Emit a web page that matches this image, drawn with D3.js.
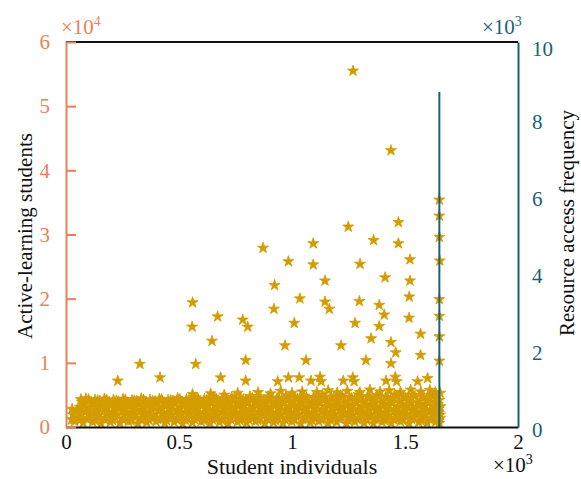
<!DOCTYPE html>
<html>
<head>
<meta charset="utf-8">
<script src="https://cdn.jsdelivr.net/npm/d3@7"></script>
<style>
  body { margin: 0; background: #fff; }
  svg text { font-family: "Liberation Serif", "Times New Roman", "DejaVu Serif", serif !important; }
</style>
</head>
<body>
<script>
/* CONSTANTS AND GLOBALS */
const width = 581,
  height = 479,
  margin = { top: 42, right: 63, bottom: 52, left: 66 };

const orange = "#e9825b",
  teal = "#1b6270",
  gold = "#d39c00";

/* DATA */
// ticks
const xTicks = [0, 500, 1000, 1500, 2000];
const leftTicks = [0, 10000, 20000, 30000, 40000, 50000, 60000];
const rightTicks = [0, 2000, 4000, 6000, 8000, 10000];

// dense band of students near the bottom [x, y]
const bandPoints = [
  [38,900],[76,650],[118,820],[155,560],[196,760],[238,620],[276,880],[318,540],[357,720],[399,860],
  [437,600],[478,780],[516,520],[559,700],[598,880],[637,610],[679,760],[717,540],[758,820],[799,650],
  [838,900],[879,580],[918,740],[960,620],[999,860],[1039,540],[1080,700],[1118,880],[1159,600],[1198,760],
  [1240,520],[1278,840],[1319,660],[1360,560],[1398,800],[1439,620],[1479,880],[1518,560],[1560,740],[1598,620],[1636,820],
  [25,1150],[60,1050],[92,1250],[130,1000],[170,1180],[205,1080],[250,1220],[288,1000],[330,1150],[368,1060],
  [405,1240],[445,1020],[490,1160],[528,1080],[568,1230],[610,1010],[648,1170],[690,1060],[728,1250],[770,1030],
  [808,1160],[848,1070],[890,1240],[928,1000],[970,1180],[1010,1090],[1048,1230],[1090,1020],[1128,1150],[1170,1070],
  [1210,1250],[1250,1000],[1290,1180],[1330,1080],[1368,1230],[1410,1020],[1450,1160],[1490,1060],[1528,1240],[1570,1010],
  [1610,1170],[1648,1050],
  [55,1500],[97,1350],[136,1650],[177,1420],[216,1580],[258,1300],[297,1700],[338,1450],[378,1560],[418,1330],
  [458,1680],[497,1480],[538,1380],[578,1620],[618,1420],[658,1560],[698,1330],[738,1700],[778,1460],[818,1580],
  [858,1350],[898,1640],[938,1480],[978,1380],[1018,1660],[1058,1420],[1098,1560],[1138,1320],[1178,1700],[1218,1480],
  [1258,1600],[1298,1380],[1338,1660],[1378,1440],[1418,1560],[1458,1340],[1498,1680],[1538,1450],[1578,1580],[1618,1360],[1645,1700],
  [30,1950],[68,1850],[108,2050],[146,1880],[186,1990],[228,1820],[268,2060],[308,1900],[348,1980],[388,1840],
  [428,2040],[468,1920],[508,1860],[548,2070],[588,1900],[628,2000],[670,1830],[710,2060],[750,1910],[790,1990],
  [830,1840],[870,2050],[910,1930],[950,1870],[990,2080],[1030,1900],[1070,2010],[1110,1840],[1150,2060],[1190,1920],
  [1230,1990],[1270,1850],[1310,2070],[1350,1910],[1390,2000],[1430,1840],[1470,2060],[1510,1930],[1550,1990],[1590,1860],
  [1630,2040],[1655,1900],
  [45,2300],[84,2450],[124,2150],[165,2380],[205,2250],[246,2520],[286,2200],[327,2420],[366,2300],[407,2550],
  [447,2180],[488,2400],[527,2270],[567,2500],[608,2200],[648,2440],[689,2320],[728,2560],[769,2200],[808,2400],
  [849,2300],[888,2520],[929,2180],[969,2450],[1009,2280],[1049,2560],[1089,2220],[1129,2420],[1169,2300],[1209,2540],
  [1249,2200],[1289,2440],[1329,2320],[1369,2560],[1409,2200],[1449,2420],[1489,2300],[1529,2520],[1569,2250],[1609,2440],[1642,2300],
  [50,2700],[92,2820],[132,2650],[175,2760],[214,2880],[256,2680],[296,2790],[336,2640],[376,2860],[416,2720],
  [456,2800],[496,2660],[536,2890],[577,2740],[617,2820],[657,2650],[697,2870],[738,2730],[778,2800],[818,2680],
  [858,2900],[898,2750],[938,2830],[978,2660],[1018,2880],[1058,2740],[1098,2810],[1138,2680],[1178,2900],[1218,2760],
  [1258,2840],[1298,2660],[1338,2890],[1378,2750],[1418,2820],[1458,2680],[1498,2900],[1538,2740],[1578,2830],[1618,2670],[1650,2850],
  [62,3100],[104,2950],[143,3250],[184,3050],[224,3200],[266,2980],[305,3300],[346,3100],[386,3220],[426,2960],
  [466,3300],[506,3080],[547,3180],[586,2980],[627,3320],[667,3100],[707,3240],[748,2980],[787,3300],[828,3120],
  [867,3200],[908,3000],[948,3340],[988,3100],[1028,3240],[1068,3000],[1109,3320],[1148,3120],[1188,3260],[1228,3020],
  [1269,3340],[1308,3120],[1348,3250],[1388,3000],[1428,3320],[1468,3120],[1508,3240],[1548,3020],[1588,3300],[1628,3100],
  [80,3500],[122,3620],[160,3450],[202,3580],[244,3480],[283,3650],[324,3520],[364,3440],[404,3600],[444,3500],
  [484,3660],[524,3460],[565,3580],[604,3520],[645,3680],[685,3470],[725,3600],[765,3540],[805,3700],[846,3480],
  [886,3620],[926,3560],[966,3720],[1006,3500],[1046,3640],[1086,3560],[1126,3740],[1166,3520],[1206,3660],[1246,3580],
  [1286,3760],[1326,3540],[1366,3680],[1406,3600],[1446,3760],[1486,3560],[1526,3700],[1566,3620],[1606,3760],[1645,3560],
  [70,3900],[112,3750],[150,4050],[192,3850],[232,3980],[273,3780],[313,4060],[354,3880],[394,4000],[433,3760],
  [474,4080],[514,3900],[555,4020],[594,3800],[635,4120],[675,3920],[715,4050],[755,3820],[795,4140],[836,3940],
  [875,4060],[916,3840],[956,4160],[996,3960],[1036,4080],[1076,3860],[1116,4180],[1156,3960],[1196,4100],[1236,3880],
  [1276,4200],[1316,3980],[1356,4100],[1396,3900],[1436,4200],[1476,3980],[1516,4100],[1556,3900],[1596,4180],[1633,3960],
  [100,4300],[140,4150],[180,4250],[222,4100],[262,4280],[302,4120],[343,4250],[383,4080],[423,4300],[463,4150],
  [504,4320],[544,4180],[584,4380],[624,4220],[664,4420],[704,4260],[744,4450],[784,4280],[824,4500],[864,4320],
  [904,4550],[944,4360],[984,4600],[1024,4400],[1064,4620],[1104,4420],[1144,4680],[1184,4450],[1224,4700],[1264,4480],
  [1304,4720],[1344,4500],[1384,4760],[1424,4520],[1464,4780],[1504,4540],[1544,4800],[1584,4560],[1624,4780],
  [88,4450],[128,4250],[170,4400],[210,4200],[252,4350],[292,4150],[333,4450],[372,4250],[413,4400],[452,4200],
  [494,4500],[533,4300],[574,4600],[612,4350],[653,4700],[694,4450],[733,4650],[774,4400],[814,4800],[853,4550],
  [894,4750],[934,4500],[974,4900],[1014,4600],[1054,4850],[1094,4550],[1134,5000],[1174,4700],[1214,4900],[1254,4600],
  [1294,5050],[1334,4750],[1374,4950],[1414,4650],[1454,5050],[1494,4800],[1534,5000],[1574,4700],[1614,5000],[1640,4800],
  [560,5100],[640,5200],[700,5000],[760,5300],[850,5400],[905,5200],[950,5600],[1000,5300],[1045,5500],[1110,5400],
  [1160,5700],[1200,5350],[1245,5600],[1300,5400],[1345,5800],[1390,5500],[1430,5700],[1480,5450],[1525,5800],[1570,5500],
  [1610,5750],[1635,5400],[27,2800],[66,4300],[35,1200],
  [1656,5300],[1652,4200],[1656,3200],[1650,2200],[1655,1400],[1652,600]
];

// scattered students above the band [x, y]
const outlierPoints = [
  [1270,55500],[1438,43100],
  [872,27900],[1094,28600],[1249,31200],[1471,31900],[984,25800],[1094,25300],[1361,29100],[1471,28600],
  [1301,25400],[1522,26100],[923,22100],[1146,22800],[1412,23300],[1522,22800],[1035,20000],[1146,19500],
  [1165,18400],[1298,19600],[1386,19000],[1519,20300],[920,18400],[1408,17500],[1010,16200],[1279,16200],
  [1386,15700],[1518,17000],[1569,14500],[1350,13800],[1438,13200],[969,12700],[1217,12700],[1459,11600],
  [1569,11200],[1438,9900],
  [560,19400],[671,17200],[558,15600],[782,16700],[804,15600],[646,13400],
  [327,9800],[574,9800],[795,10400],[1062,10400],[1327,10400],
  [229,7200],[416,7700],[684,7700],[795,7200],[937,7100],[984,7700],[1032,7700],[1084,7200],[1124,7800],
  [1129,7100],[1227,7200],[1269,7700],[1275,7100],[1416,7200],[1457,7800],[1463,7100],[1556,7100],[1600,7600],
  [1652,35400],[1652,32900],[1652,29600],[1654,25900],[1652,19900],[1652,17300],[1652,14100],[1652,10300]
];

// resource access frequency line (right axis)
const freqLine = [[1652, 0], [1652, 8700]];

/* SVG */
const svg = d3.select("body")
  .append("svg")
  .attr("width", width)
  .attr("height", height);

// scales
const xScale = d3.scaleLinear()
  .domain([0, 2000])
  .range([margin.left, width - margin.right]);

const yLeft = d3.scaleLinear()
  .domain([0, 60000])
  .range([height - margin.bottom, margin.top]);

const yRight = d3.scaleLinear()
  .domain([0, 10000])
  .range([height - margin.bottom, margin.top]);

// stars
const star = d3.symbol().type(d3.symbolStar).size(38);
svg.append("g")
  .selectAll("path")
  .data(bandPoints.concat(outlierPoints))
  .join("path")
  .attr("d", star)
  .attr("transform", d => `translate(${xScale(d[0])},${yLeft(d[1])})`)
  .attr("fill", gold)
  .attr("stroke", gold)
  .attr("stroke-width", 0.8)
  .attr("stroke-linejoin", "round");

// right axis line series
svg.append("path")
  .datum(freqLine)
  .attr("d", d3.line().x(d => xScale(d[0])).y(d => yRight(d[1])))
  .attr("stroke", teal)
  .attr("stroke-width", 2)
  .attr("fill", "none");

// top frame
svg.append("line")
  .attr("x1", margin.left).attr("x2", width - margin.right)
  .attr("y1", margin.top).attr("y2", margin.top)
  .attr("stroke", "#111").attr("stroke-width", 2);

// x axis
const xAxis = svg.append("g")
  .attr("transform", `translate(0, ${height - margin.bottom})`)
  .call(d3.axisBottom(xScale).tickValues(xTicks).tickSize(0).tickPadding(7)
    .tickFormat(d => d / 1000));
xAxis.select(".domain").attr("stroke", "#111").attr("stroke-width", 2);
xAxis.selectAll("text").attr("font-size", 21).attr("fill", "#111");

// left axis
const leftAxis = svg.append("g")
  .attr("transform", `translate(${margin.left}, 0)`)
  .call(d3.axisLeft(yLeft).tickValues(leftTicks).tickSize(-10).tickPadding(16)
    .tickFormat(d => d / 10000));
leftAxis.select(".domain").attr("stroke", orange).attr("stroke-width", 2);
leftAxis.selectAll(".tick line").attr("stroke", orange).attr("stroke-width", 2)
  .filter(d => d === 0 || d === 60000).remove();
leftAxis.selectAll("text").attr("font-size", 21).attr("fill", orange);

// right axis
const rightAxis = svg.append("g")
  .attr("transform", `translate(${width - margin.right}, 0)`)
  .call(d3.axisRight(yRight).tickValues(rightTicks).tickSize(0).tickPadding(14)
    .tickFormat(d => d / 1000));
rightAxis.select(".domain").attr("stroke", teal).attr("stroke-width", 2);
rightAxis.selectAll("text").attr("font-size", 21).attr("fill", teal)
  .attr("dy", d => d === 10000 ? "0.65em" : "0.45em");

// exponent labels
function exponent(x, y, power, color) {
  const t = svg.append("text")
    .attr("x", x).attr("y", y)
    .attr("font-size", 21)
    .attr("fill", color);
  t.append("tspan").text("×10");
  t.append("tspan").attr("dy", -8).attr("font-size", 14).text(power);
}
exponent(61, 34, "4", orange);
exponent(482, 34, "3", teal);
exponent(493, 472, "3", "#111");

// axis titles
svg.append("text")
  .attr("x", xScale(1000))
  .attr("y", 474)
  .attr("text-anchor", "middle")
  .attr("font-size", 22)
  .attr("fill", "#111")
  .text("Student individuals");

svg.append("text")
  .attr("transform", "translate(32, 236) rotate(-90)")
  .attr("text-anchor", "middle")
  .attr("font-size", 21)
  .attr("fill", "#111")
  .text("Active-learning students");

svg.append("text")
  .attr("transform", "translate(574, 223) rotate(-90)")
  .attr("text-anchor", "middle")
  .attr("font-size", 21)
  .attr("fill", "#111")
  .text("Resource access frequency");
</script>
</body>
</html>
